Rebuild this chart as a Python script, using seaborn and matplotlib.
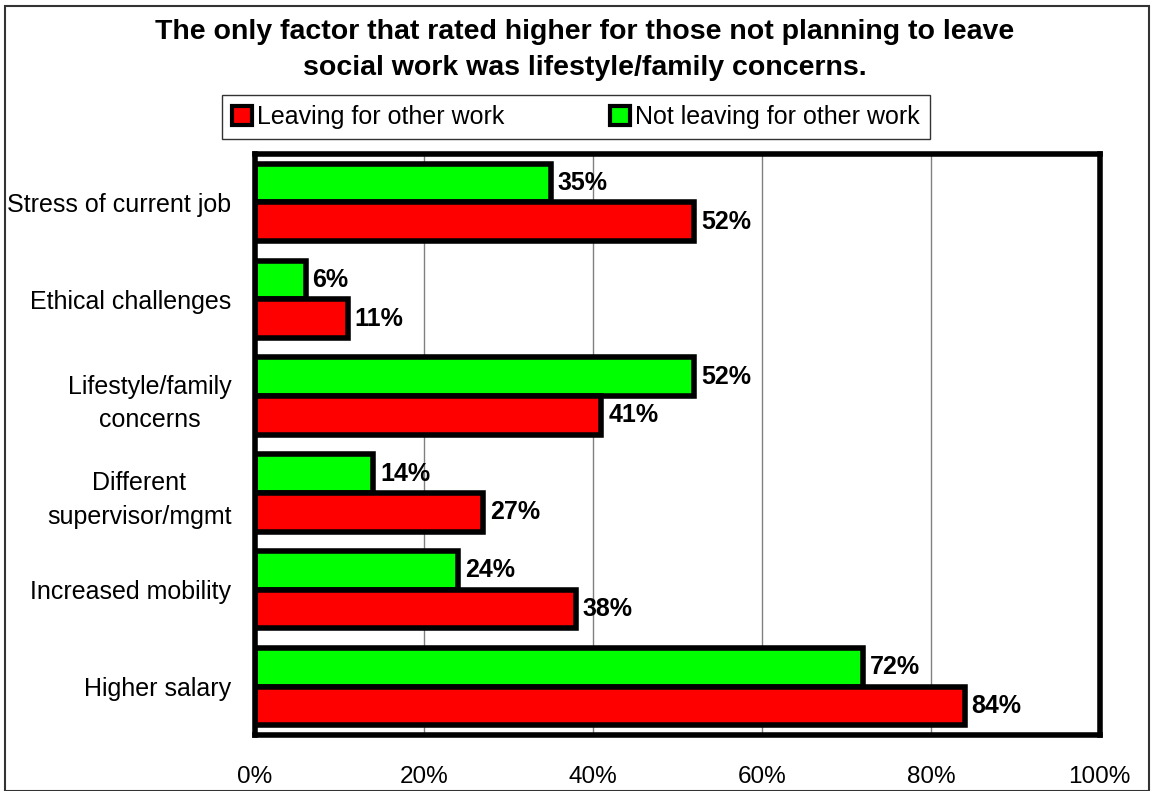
import pandas as pd
import matplotlib.pyplot as plt
import matplotlib.patches as mpatches
import seaborn as sns

# Chart data
factors = ['Stress of current job', 'Ethical challenges',
           'Lifestyle/family\nconcerns', 'Different\nsupervisor/mgmt',
           'Increased mobility', 'Higher salary']
leaving = [52, 11, 41, 27, 38, 84]
not_leaving = [35, 6, 52, 14, 24, 72]
series_names = ['Leaving for other work', 'Not leaving for other work']
x_ticks = [0, 20, 40, 60, 80, 100]
x_tick_labels = ['0%', '20%', '40%', '60%', '80%', '100%']

# Long format table for seaborn:
df = pd.DataFrame({
    'factor': factors * 2,
    'value': leaving + not_leaving,
    'group': [series_names[0]] * len(factors) + [series_names[1]] * len(factors),
})

sns.set_style('white')
plt.rcParams['font.family'] = ['Liberation Sans', 'DejaVu Sans']
plt.rcParams['text.color'] = 'black'
plt.rcParams['xtick.color'] = 'black'
plt.rcParams['ytick.color'] = 'black'

fig = plt.figure(figsize=(11.51, 7.91), dpi=100)
ax = fig.add_axes([0.2215, 0.0708, 0.734, 0.7345])

palette = {series_names[0]: '#ff0000', series_names[1]: '#00ff00'}
sns.barplot(data=df, y='factor', x='value', hue='group', order=factors,
            hue_order=[series_names[1], series_names[0]], palette=palette,
            orient='h', width=0.8, edgecolor='black', linewidth=4,
            saturation=1, legend=False, ax=ax)

# Value labels at the end of each bar:
for container in ax.containers:
    ax.bar_label(container, labels=[f'{v:.0f}%' for v in container.datavalues],
                 padding=5, fontsize=18, fontweight='bold', color='black')

ax.set_xlim(0, 100)
ax.set_ylim(5.5, -0.5)
ax.set_xticks(x_ticks)
ax.set_xticklabels(x_tick_labels, fontsize=17.5)
ax.set_xlabel('')
ax.set_ylabel('')
ax.xaxis.grid(True, color='#808080', linewidth=1)
ax.set_axisbelow(True)

# Category ticks sit on the boundaries between groups:
ax.set_yticks(range(len(factors)))
ax.set_yticklabels(factors, fontsize=18, linespacing=1.5, ha='right',
                   multialignment='center')
ax.tick_params(axis='y', length=0, pad=17)
ax.set_yticks([i - 0.5 for i in range(len(factors) + 1)], minor=True)
ax.tick_params(axis='y', which='minor', length=6, width=1, color='#808080')
ax.tick_params(axis='x', length=6, width=1, color='#808080', pad=16)

for side in ['top', 'right', 'bottom', 'left']:
    ax.spines[side].set_visible(True)
    ax.spines[side].set_color('black')
    ax.spines[side].set_linewidth(4)

# Legend in the order of the original, stretched to the width of its box:
handles = [mpatches.Patch(facecolor=palette[n], edgecolor='black', linewidth=3)
           for n in series_names]
leg = fig.legend(handles, series_names, loc='center', ncol=2, mode='expand',
                 bbox_to_anchor=(0.193, 0.825, 0.615, 0.054), fontsize=18,
                 frameon=True, fancybox=False, edgecolor='black',
                 handlelength=0.8, handleheight=0.8, handletextpad=0.2,
                 borderpad=0.4, borderaxespad=0)
leg.get_frame().set_linewidth(1)

fig.text(0.508, 0.937, 'The only factor that rated higher for those not planning to leave\n'
         'social work was lifestyle/family concerns.', ha='center', va='center',
         fontsize=20.5, fontweight='bold', linespacing=1.5)

# Thin border around the whole picture:
fig.patches.append(mpatches.Rectangle((0.004, 0.0), 0.994, 0.993,
                                      transform=fig.transFigure, fill=False,
                                      edgecolor='#333333', linewidth=1.5))

plt.savefig('out.png', dpi=100)
